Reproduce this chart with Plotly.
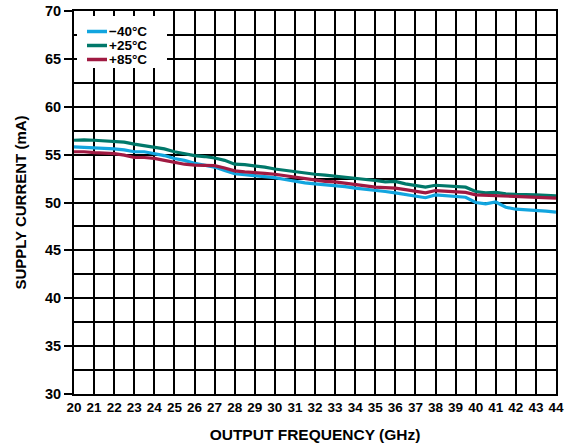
import plotly.graph_objects as go

freq = [20, 20.5, 21, 21.5, 22, 22.5, 23, 23.5, 24, 24.5, 25, 25.5, 26, 26.5, 27, 27.5, 28, 28.5,
        29, 29.5, 30, 30.5, 31, 31.5, 32, 32.5, 33, 33.5, 34, 34.5, 35, 35.5, 36, 36.5, 37, 37.5,
        38, 38.5, 39, 39.5, 40, 40.5, 41, 41.5, 42, 42.5, 43, 43.5, 44]

i_m40 = [55.8, 55.75, 55.7, 55.7, 55.6, 55.5, 55.3, 55.3, 55.1, 54.9, 54.6, 54.4, 54.1, 53.9, 53.7, 53.35,
         53.0, 52.9, 52.8, 52.7, 52.6, 52.4, 52.2, 52.05, 51.95, 51.85, 51.8, 51.65, 51.5, 51.4, 51.3, 51.15,
         51.0, 50.85, 50.7, 50.5, 50.8, 50.7, 50.65, 50.55, 50.0, 49.85, 50.05, 49.5, 49.3, 49.25, 49.2, 49.1, 49.0]

i_p25 = [56.5, 56.55, 56.5, 56.45, 56.4, 56.3, 56.1, 55.95, 55.8, 55.6, 55.3, 55.1, 54.9, 54.8, 54.65, 54.4,
         54.0, 53.95, 53.85, 53.7, 53.5, 53.35, 53.2, 53.05, 52.95, 52.85, 52.75, 52.6, 52.5, 52.4, 52.3, 52.15,
         52.2, 51.95, 51.75, 51.6, 51.8, 51.75, 51.65, 51.6, 51.15, 51.0, 51.05, 50.9, 50.85, 50.85, 50.8, 50.75, 50.7]

i_p85 = [55.3, 55.3, 55.2, 55.15, 55.1, 54.95, 54.7, 54.7, 54.6, 54.4, 54.2, 54.0, 53.9, 53.9, 53.85, 53.6,
         53.3, 53.2, 53.15, 53.05, 52.95, 52.8, 52.6, 52.45, 52.3, 52.2, 52.15, 52.0, 51.9, 51.75, 51.6, 51.55,
         51.5, 51.35, 51.2, 51.0, 51.25, 51.2, 51.15, 51.05, 50.8, 50.75, 50.7, 50.65, 50.6, 50.55, 50.5, 50.5, 50.45]

series_names = ["\u221240\u00b0C", "+25\u00b0C", "+85\u00b0C"]
series_values = [i_m40, i_p25, i_p85]
colors = ["#12A5DF", "#00786A", "#A01A42"]

x_ticks = list(range(20, 45))
y_ticks = list(range(30, 71, 5))

FONT = "Liberation Sans, Arial, sans-serif"

fig = go.Figure()
for name, vals, col in zip(series_names, series_values, colors):
    fig.add_trace(go.Scatter(x=freq, y=vals, mode="lines", name=name, showlegend=False,
                             line=dict(color=col, width=3.2)))

# compact legend (white box + short line samples + labels), placed in paper coords
W, H = 567, 447
ml, mr, mt, mb = 74, 11, 11, 53
pw, ph = W - ml - mr, H - mt - mb


def px_x(p):
    return (p - ml) / pw


def px_y(p):
    return 1 - (p - mt) / ph


shapes = [dict(type="rect", xref="paper", yref="paper", layer="above",
               x0=px_x(77), x1=px_x(167), y0=px_y(68), y1=px_y(16),
               fillcolor="white", line=dict(width=0))]
annotations = []
legend_rows = [31.5, 45.5, 59.5]
for name, col, yy in zip(series_names, colors, legend_rows):
    shapes.append(dict(type="line", xref="paper", yref="paper", layer="above",
                       x0=px_x(87), x1=px_x(107), y0=px_y(yy), y1=px_y(yy),
                       line=dict(color=col, width=3.5)))
    annotations.append(dict(xref="paper", yref="paper", x=px_x(108), y=px_y(yy),
                            xanchor="left", yanchor="middle", showarrow=False, text=name,
                            borderpad=0,
                            font=dict(family=FONT, size=13.5, color="black", weight="bold")))

fig.update_layout(
    width=W, height=H,
    margin=dict(l=ml, r=mr, t=mt, b=mb, autoexpand=False),
    paper_bgcolor="white", plot_bgcolor="white",
    font=dict(family=FONT, color="black", size=13, weight="bold"),
    showlegend=False,
    shapes=shapes, annotations=annotations,
    xaxis=dict(range=[20, 44], tickvals=x_ticks, ticktext=[str(v) for v in x_ticks],
               showgrid=True, gridcolor="black", gridwidth=1.5,
               showline=True, linecolor="black", linewidth=2, mirror=True,
               ticks="", zeroline=False, automargin=False,
               tickfont=dict(size=13.5, family=FONT, weight="bold"),
               title=dict(text="OUTPUT FREQUENCY (GHz)",
                          font=dict(size=15.5, family=FONT, weight="bold"))),
    yaxis=dict(range=[30, 70], tickvals=y_ticks,
               showgrid=True, gridcolor="black", gridwidth=1.5,
               minor=dict(dtick=2.5, showgrid=True, gridcolor="black", gridwidth=1.5, ticks=""),
               showline=True, linecolor="black", linewidth=2, mirror=True,
               ticks="outside", ticklen=8, tickwidth=1.5, tickcolor="black", zeroline=False,
               automargin=False,
               tickfont=dict(size=14.5, family=FONT, weight="bold"),
               title=dict(text="SUPPLY CURRENT (mA)",
                          font=dict(size=15, family=FONT, weight="bold"))),
)

fig.write_html("out.html", config={"displayModeBar": False},
               post_script="document.body.style.margin='0';")
